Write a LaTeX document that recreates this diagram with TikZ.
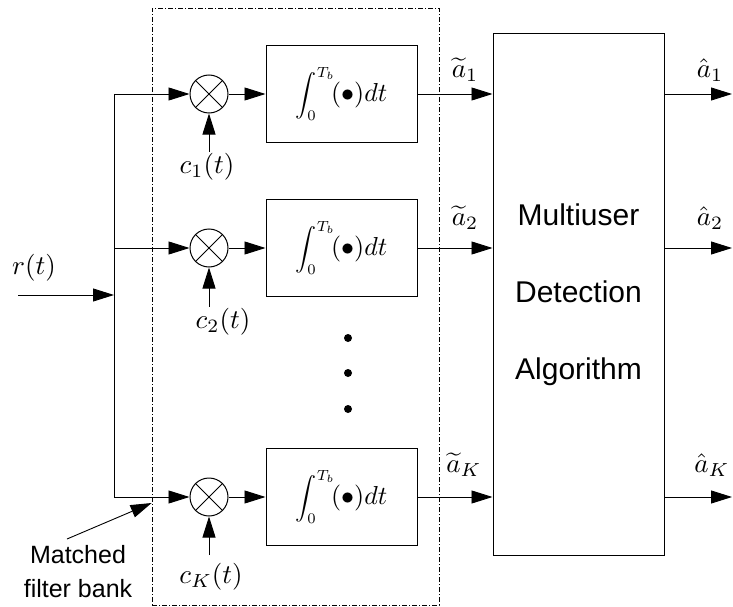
\documentclass[tikz,border=0pt]{standalone}
\usepackage{fontspec}
\setsansfont{Liberation Sans}
\usetikzlibrary{arrows.meta}
% math labels are set at 10pt and enlarged
\newcommand{\mlbl}[1]{\scalebox{2.7}{$#1$}}
% integrator contents
\newcommand{\integrand}{\scalebox{2.1}{$\displaystyle\int_0^{T_b}$}\scalebox{2.6}{$\!(\bullet)dt$}}
\begin{document}
\begin{tikzpicture}[x=1pt,y=-1pt,
  sig/.style={line width=0.9pt,-{Triangle[length=21pt,width=13pt]}},
  wire/.style={line width=0.9pt},
  intbox/.style={draw,line width=1pt,minimum width=151pt,minimum height=97pt,inner sep=0pt},
  mult/.style={draw,circle,line width=1pt,minimum size=38pt,inner sep=0pt},
  mathlbl/.style={inner sep=1.5pt},
  sflbl/.style={font=\sffamily\fontsize{25}{34}\selectfont,align=center,inner sep=0pt},
  dotnode/.style={circle,fill,minimum size=8pt,inner sep=0pt},
]
\useasboundingbox (0,0) rectangle (733,607);

% matched filter bank enclosure
\node[draw,line width=0.8pt,dash pattern=on 5pt off 2pt on 1pt off 2pt,
      minimum width=287pt,minimum height=597pt,inner sep=0pt] (bank) at (295.5,306.5) {};

% multipliers and integrators
\foreach \n/\y in {1/94,2/248,K/497}{
  \node[mult] (m\n) at (209,\y) {};
  \draw[line width=1pt] (m\n.north west) -- (m\n.south east) (m\n.north east) -- (m\n.south west);
  \node[intbox] (i\n) at (341.5,\y) {\integrand};
}

% spreading codes
\node[mathlbl] (c1) at (207,167) {\mlbl{c_1(t)}};
\node[mathlbl] (c2) at (223,322) {\mlbl{c_2(t)}};
\node[mathlbl] (cK) at (211,577) {\mlbl{c_K(t)}};
\draw[sig] (m1 |- c1.north) -- (m1);
\draw[sig] (m2 |- c2.north) -- (m2);
\draw[sig] (mK |- 0,555) -- (mK);

% vertical dots
\node[dotnode] (d1) at (348,338) {};
\node[dotnode] (d2) at (348,373) {};
\node[dotnode] (d3) at (348,409) {};

% multiuser detector
\node[draw,line width=1pt,minimum width=171pt,minimum height=521pt,inner sep=0pt,
      font=\sffamily\fontsize{30}{77}\selectfont,align=center] (mud) at (578.5,294.5)
      {Multiuser\\Detection\\Algorithm};

% received signal and distribution bus
\coordinate (rin) at (18,295);
\coordinate (b1) at (114,94);
\coordinate (br) at (114,295);
\coordinate (b2) at (114,248);
\coordinate (bK) at (114,497);
\node[mathlbl] (rlbl) at (34,268) {\mlbl{r(t)}};
\draw[sig] (rin) -- (br);
\draw[wire] (b1) -- (bK);
\foreach \n in {1,2,K}{
  \draw[sig] (b\n) -- (m\n);
  \draw[sig] (m\n) -- (i\n);
  \draw[sig] (i\n) -- (i\n -| mud.west);
  \coordinate (o\n) at (732,0 |- i\n);
  \draw[sig] (i\n -| mud.east) -- (o\n);
}

% decision statistics and estimates
\node[mathlbl] (t1) at (465,70) {\mlbl{\widetilde{a}_1}};
\node[mathlbl] (t2) at (465,218) {\mlbl{\widetilde{a}_2}};
\node[mathlbl] (tK) at (464,465) {\mlbl{\widetilde{a}_K}};
\node[mathlbl] (h1) at (710,70) {\mlbl{\hat{a}_1}};
\node[mathlbl] (h2) at (710,218) {\mlbl{\hat{a}_2}};
\node[mathlbl] (hK) at (712,465) {\mlbl{\hat{a}_K}};

% caption for the filter bank
\node[sflbl] (mfb) at (78,572) {Matched\\filter bank};
\coordinate (mfbtip) at (bank.west |- 0,503);
\draw[sig] (67,539) -- (mfbtip);
\end{tikzpicture}
\end{document}
